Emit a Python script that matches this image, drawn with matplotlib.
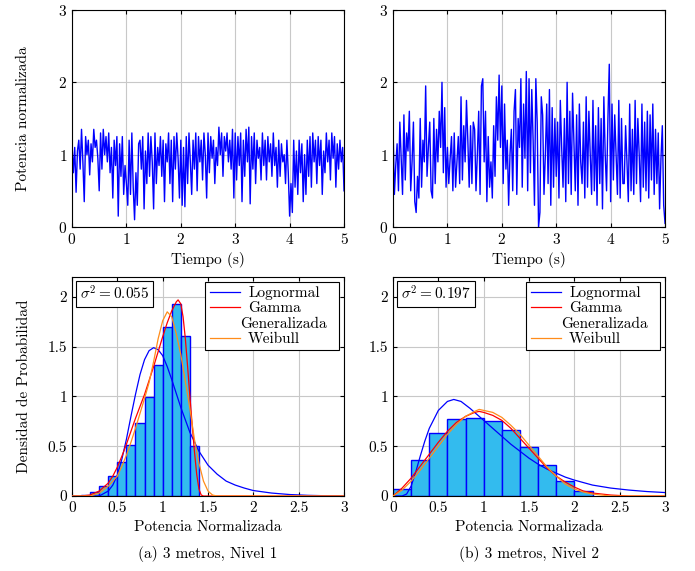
import numpy as np
import matplotlib.pyplot as plt
from matplotlib.lines import Line2D
from matplotlib.transforms import Affine2D

plt.rcParams['font.family'] = 'serif'
plt.rcParams['font.serif'] = ['cmr10', 'DejaVu Serif']
plt.rcParams['mathtext.fontset'] = 'cm'
plt.rcParams['axes.formatter.use_mathtext'] = True
plt.rcParams['font.size'] = 11

# ---- time series (normalised power), sampled every 0.025 s ----
pot1 = [1.15, 0.75, 1.1, 0.48, 1.05, 1.2, 0.8, 1.35, 0.9, 0.35,
        1.25, 1.0, 1.2, 0.72, 1.15, 0.9, 1.35, 1.1, 1.2, 0.95,
        0.5, 1.3, 0.8, 1.35, 1.0, 1.25, 0.9, 1.3, 0.75, 1.1,
        0.4, 1.2, 0.85, 1.25, 0.15, 1.15, 0.7, 1.25, 0.45, 0.85,
        0.6, 0.3, 1.2, 0.45, 1.3, 0.55, 0.1, 0.75, 0.3, 1.15,
        1.2, 0.8, 1.25, 0.25, 1.05, 0.6, 1.3, 0.7, 1.25, 0.9,
        0.25, 1.3, 0.6, 1.1, 0.85, 1.25, 0.7, 1.2, 0.35, 1.15,
        0.9, 1.3, 0.6, 1.2, 0.35, 1.25, 0.8, 1.3, 0.95, 0.4,
        1.2, 0.3, 1.1, 0.28, 1.25, 0.6, 1.3, 0.9, 0.45, 1.2,
        0.8, 1.3, 0.5, 1.25, 0.9, 1.2, 0.65, 1.3, 1.0, 0.4,
        1.3, 0.75, 1.25, 0.95, 1.2, 0.6, 1.1, 0.85, 1.38, 1.0,
        1.3, 0.7, 1.25, 1.05, 1.3, 0.9, 1.2, 0.8, 1.35, 0.4,
        1.3, 0.65, 1.25, 0.85, 1.3, 0.35, 1.2, 0.7, 1.35, 0.9,
        1.38, 0.32, 1.25, 0.8, 1.3, 0.6, 1.2, 0.95, 1.1, 0.65,
        1.3, 0.85, 1.2, 0.65, 1.25, 0.9, 1.15, 0.7, 1.3, 0.85,
        1.1, 0.55, 1.2, 0.7, 1.15, 0.9, 1.0, 0.6, 1.2, 0.75,
        0.15, 0.6, 0.2, 1.2, 0.55, 1.05, 0.45, 1.2, 0.75, 1.15,
        0.35, 1.0, 0.45, 1.2, 0.7, 1.25, 0.55, 1.3, 0.9, 1.2,
        0.6, 1.25, 0.85, 1.2, 0.45, 1.05, 0.75, 1.3, 0.9, 1.2,
        0.65, 1.3, 0.95, 1.25, 0.55, 1.15, 0.8, 1.2, 0.9, 1.1, 0.5]

pot2 = [1.4, 0.45, 0.85, 1.15, 0.5, 1.45, 0.95, 0.45, 1.55, 0.65,
        1.3, 1.05, 1.6, 0.5, 0.9, 1.45, 0.35, 0.2, 0.7, 0.4,
        1.5, 0.55, 1.2, 0.9, 1.95, 0.7, 1.1, 1.45, 0.5, 0.4,
        1.5, 0.6, 1.35, 0.9, 1.6, 1.1, 2.0, 0.75, 1.65, 0.55,
        1.1, 0.6, 0.95, 1.25, 0.5, 1.3, 0.55, 0.9, 1.25, 0.6,
        1.8, 0.65, 1.4, 0.9, 1.75, 1.2, 0.55, 1.4, 0.6, 1.45,
        1.35, 0.5, 1.0, 1.6, 0.45, 1.95, 2.05, 0.9, 1.6, 0.35,
        1.25, 0.55, 0.9, 0.4, 1.4, 0.7, 1.8, 1.2, 2.1, 1.1,
        1.95, 0.6, 1.7, 0.8, 1.2, 0.3, 1.0, 1.35, 0.5, 1.6,
        1.9, 0.45, 1.5, 1.1, 2.05, 0.55, 1.7, 0.95, 2.15, 0.5,
        2.05, 0.75, 1.9, 1.2, 0.3, 2.05, 1.45, 0.0, 0.2, 1.8,
        1.55, 0.45, 1.0, 1.7, 0.6, 1.9, 0.3, 1.65, 0.55, 1.5,
        0.7, 1.45, 0.4, 1.75, 1.1, 0.55, 1.5, 0.35, 2.0, 0.6,
        1.6, 0.45, 1.85, 1.2, 0.5, 1.55, 0.3, 1.7, 0.9, 0.6,
        1.45, 0.4, 1.8, 0.55, 1.6, 1.0, 0.45, 1.75, 0.5, 1.4,
        0.3, 1.65, 0.6, 1.5, 0.25, 1.8, 1.0, 0.5, 1.5, 2.25,
        0.35, 1.7, 0.65, 1.55, 1.0, 0.45, 1.75, 0.4, 1.5, 0.6,
        0.6, 1.4, 0.9, 0.35, 1.7, 0.5, 1.35, 0.45, 1.75, 0.6,
        1.5, 1.0, 0.35, 1.7, 0.55, 1.45, 0.5, 1.6, 0.4, 1.55,
        0.65, 1.7, 0.45, 1.35, 0.6, 1.3, 0.25, 0.95, 1.4, 0.3, 0.05]

t = np.linspace(0, 5, len(pot1))

# ---- histograms ----
bins_a = [0.1, 0.2, 0.3, 0.4, 0.5, 0.6, 0.7, 0.8, 0.9, 1.0, 1.1, 1.2, 1.3]
hist_a = [0.01, 0.04, 0.1, 0.2, 0.34, 0.51, 0.73, 0.99, 1.32, 1.7, 1.93, 1.61, 0.5]
bins_b = [0.0, 0.2, 0.4, 0.6, 0.8, 1.0, 1.2, 1.4, 1.6, 1.8, 2.0]
hist_b = [0.07, 0.36, 0.63, 0.77, 0.78, 0.75, 0.66, 0.49, 0.31, 0.15, 0.05]

# ---- fitted pdfs (a) ----
logn_a_x = [0, 0.3, 0.4, 0.45, 0.5, 0.55, 0.6, 0.65, 0.7, 0.75, 0.8, 0.85, 0.9, 0.95, 1.0, 1.05,
            1.1, 1.15, 1.2, 1.3, 1.4, 1.5, 1.6, 1.7, 1.8, 1.9, 2.0, 2.2, 2.4, 2.6, 2.8, 3.0]
logn_a_y = [0, 0.0, 0.05, 0.11, 0.21, 0.37, 0.57, 0.8, 1.02, 1.22, 1.37, 1.46, 1.49, 1.47, 1.41, 1.3,
            1.17, 1.03, 0.89, 0.64, 0.45, 0.31, 0.22, 0.15, 0.11, 0.08, 0.055, 0.03, 0.015, 0.007, 0.003, 0.001]
gg_a_x = [0, 0.1, 0.2, 0.3, 0.4, 0.45, 0.5, 0.55, 0.6, 0.65, 0.7, 0.75, 0.8, 0.85, 0.9, 0.95, 1.0,
          1.05, 1.1, 1.15, 1.17, 1.2, 1.225, 1.25, 1.275, 1.3, 1.325, 1.35, 1.375, 1.4, 1.425, 1.45, 3.0]
gg_a_y = [0, 0.0, 0.01, 0.05, 0.13, 0.2, 0.29, 0.4, 0.52, 0.65, 0.78, 0.9, 1.02, 1.16, 1.3, 1.45, 1.6,
          1.74, 1.86, 1.95, 1.97, 1.93, 1.8, 1.58, 1.3, 1.0, 0.72, 0.45, 0.22, 0.07, 0.01, 0.0, 0.0]
wb_a_x = [0, 0.2, 0.3, 0.4, 0.5, 0.55, 0.6, 0.65, 0.7, 0.75, 0.8, 0.85, 0.9, 0.95, 1.0, 1.05,
          1.1, 1.15, 1.2, 1.25, 1.3, 1.35, 1.4, 1.45, 1.5, 1.55, 1.6, 3.0]
wb_a_y = [0, 0.0, 0.03, 0.1, 0.2, 0.3, 0.41, 0.54, 0.68, 0.83, 0.98, 1.14, 1.35, 1.58, 1.76, 1.85,
          1.8, 1.63, 1.42, 1.15, 0.88, 0.57, 0.33, 0.15, 0.05, 0.01, 0.0, 0.0]

# ---- fitted pdfs (b) ----
logn_b_x = [0, 0.1, 0.15, 0.2, 0.25, 0.3, 0.35, 0.4, 0.5, 0.6, 0.67, 0.75, 0.85, 1.0, 1.1, 1.2,
            1.3, 1.4, 1.5, 1.6, 1.7, 1.8, 1.9, 2.0, 2.2, 2.4, 2.6, 2.8, 3.0]
logn_b_y = [0, 0.0, 0.02, 0.1, 0.24, 0.4, 0.55, 0.68, 0.86, 0.95, 0.97, 0.95, 0.88, 0.76, 0.68, 0.6,
            0.52, 0.45, 0.38, 0.32, 0.27, 0.23, 0.19, 0.16, 0.11, 0.08, 0.06, 0.045, 0.035]
gg_b_x = [0, 0.1, 0.2, 0.3, 0.4, 0.5, 0.6, 0.7, 0.8, 0.9, 0.95, 1.0, 1.1, 1.2, 1.3, 1.4, 1.5,
          1.6, 1.7, 1.8, 1.9, 2.0, 2.1, 2.2, 2.4, 2.6, 3.0]
gg_b_y = [0, 0.08, 0.18, 0.3, 0.42, 0.54, 0.65, 0.74, 0.8, 0.84, 0.85, 0.84, 0.81, 0.76, 0.68, 0.58, 0.48,
          0.38, 0.28, 0.2, 0.14, 0.09, 0.05, 0.03, 0.01, 0.0, 0.0]
wb_b_x = [0, 0.1, 0.2, 0.3, 0.4, 0.5, 0.6, 0.7, 0.8, 0.9, 0.95, 1.0, 1.1, 1.2, 1.3, 1.4, 1.5,
          1.6, 1.7, 1.8, 1.9, 2.0, 2.1, 2.2, 2.4, 3.0]
wb_b_y = [0, 0.06, 0.15, 0.26, 0.38, 0.5, 0.62, 0.72, 0.8, 0.85, 0.87, 0.86, 0.84, 0.79, 0.71, 0.62, 0.51,
          0.4, 0.29, 0.2, 0.12, 0.07, 0.04, 0.02, 0.0, 0.0]

var_a = 0.055
var_b = 0.197
orange = '#ff8c1a'
barcol = '#33bbee'

fig = plt.figure(figsize=(6.95, 5.71), dpi=100)
axw = 0.3914
ax1 = fig.add_axes([0.1036, 0.6025, axw, 0.38])
ax2 = fig.add_axes([0.5655, 0.6025, axw, 0.38])
ax3 = fig.add_axes([0.1036, 0.1313, axw, 0.3836])
ax4 = fig.add_axes([0.5655, 0.1313, axw, 0.3836])

for ax in (ax1, ax2, ax3, ax4):
    ax.grid(True, color='#c8c8c8', linewidth=0.8)
    ax.set_axisbelow(True)
    ax.tick_params(direction='in', top=True, right=True, length=3, labelsize=11)

for ax, p in ((ax1, pot1), (ax2, pot2)):
    ax.plot(t, p, color='blue', linewidth=1.0)
    ax.set_xlim(0, 5)
    ax.set_ylim(0, 3)
    ax.set_xticks([0, 1, 2, 3, 4, 5])
    ax.set_yticks([0, 1, 2, 3])
    ax.set_xlabel('Tiempo (s)')
ax1.set_ylabel('Potencia normalizada', labelpad=20)

panels = [(ax3, bins_a, hist_a, 0.1, logn_a_x, logn_a_y, gg_a_x, gg_a_y, wb_a_x, wb_a_y, var_a),
          (ax4, bins_b, hist_b, 0.2, logn_b_x, logn_b_y, gg_b_x, gg_b_y, wb_b_x, wb_b_y, var_b)]
for ax, be, hv, w, lx, ly, gx, gy, wx, wy, v in panels:
    ax.bar(be, hv, width=w, align='edge', color=barcol, edgecolor='blue', linewidth=1.0, zorder=2)
    ax.plot(lx, ly, color='blue', linewidth=0.9, zorder=3)
    ax.plot(gx, gy, color='red', linewidth=0.9, zorder=3)
    ax.plot(wx, wy, color=orange, linewidth=0.9, zorder=3)
    ax.set_xlim(0, 3)
    ax.set_ylim(0, 2.2)
    ax.set_xticks([0, 0.5, 1, 1.5, 2, 2.5, 3])
    ax.set_xticklabels(['0', '0.5', '1', '1.5', '2', '2.5', '3'])
    ax.set_yticks([0, 0.5, 1, 1.5, 2])
    ax.set_yticklabels(['0', '0.5', '1', '1.5', '2'])
    ax.set_xlabel('Potencia Normalizada')
    ax.text(0.03, 0.965, r'$\sigma^2 = %.3f$' % v, transform=ax.transAxes, ha='left', va='top',
            fontsize=11, zorder=5,
            bbox=dict(boxstyle='square,pad=0.25', facecolor='white', edgecolor='black', linewidth=0.8))
    handles = [Line2D([], [], color='blue', lw=0.9), Line2D([], [], color='red', lw=0.9),
               Line2D([], [], color='none'), Line2D([], [], color=orange, lw=0.9)]
    labels = ['Lognormal', 'Gamma', 'Generalizada', 'Weibull']
    leg = ax.legend(handles, labels, loc='upper right', fancybox=False, framealpha=1,
                    edgecolor='black', borderaxespad=0.3, handlelength=2.0, handletextpad=0.5,
                    labelspacing=0.1, borderpad=0.3, fontsize=11)
    leg.get_frame().set_linewidth(0.8)
    leg.set_zorder(6)
    # second line of "Gamma Generalizada" hangs a little left of the label column
    txt = leg.get_texts()[2]
    txt.set_transform(txt.get_transform() + Affine2D().translate(-8, 0))
ax3.set_ylabel('Densidad de Probabilidad', labelpad=12)

fig.text(0.1036 + axw / 2, 0.03, '(a) 3 metros, Nivel 1', ha='center', va='center', fontsize=11)
fig.text(0.5655 + axw / 2, 0.03, '(b) 3 metros, Nivel 2', ha='center', va='center', fontsize=11)

fig.savefig('out.png', dpi=100)
